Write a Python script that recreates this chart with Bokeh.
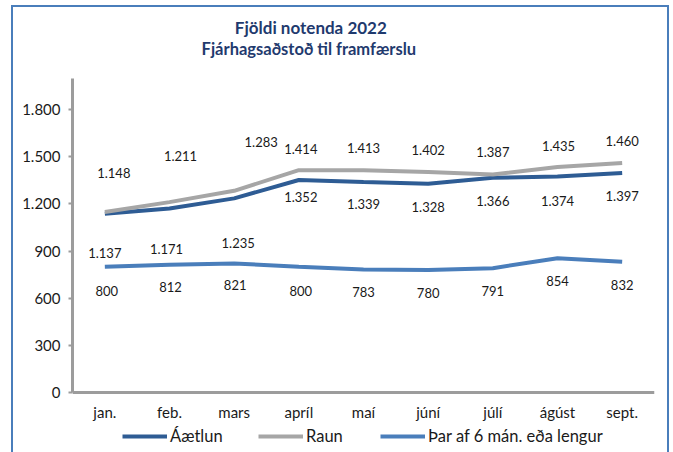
from bokeh.plotting import figure
from bokeh.models import Range1d, FactorRange, Legend, LegendItem, FixedTicker, ColumnDataSource
from bokeh.embed import file_html
from bokeh.resources import INLINE
from bokeh.core.properties import value

# ---- data ----
months = ["jan.", "feb.", "mars", "apríl", "maí", "júní", "júlí", "ágúst", "sept."]
aaetlun = [1137, 1171, 1235, 1352, 1339, 1328, 1366, 1374, 1397]
raun = [1148, 1211, 1283, 1414, 1413, 1402, 1387, 1435, 1460]
thar_af = [800, 812, 821, 800, 783, 780, 791, 854, 832]
y_ticks = [0, 300, 600, 900, 1200, 1500, 1800]
y_axis_max = 2000
series_names = ["Áætlun", "Raun", "Þar af 6 mán. eða lengur"]
title_lines = ["Fjöldi notenda 2022", "Fjárhagsaðstoð til framfærslu"]

# label placement (pixels; positive dy = upward)
raun_dx = [9, 11, 27, 2, 0, 0, 0, 1, 0]
raun_dy = [39, 46, 49, 21, 22, 22, 22, 21, 22]
aaetlun_dx = [0, -3, 4, 2, 0, 0, 0, 0, 0]
aaetlun_dy = [-39, -41, -45, -17, -22, -23, -23, -24, -23]
thar_dx = [2, 1, 1, 2, 0, 0, 0, 0, 0]
thar_dy = [-24, -22, -22, -24, -23, -23, -23, -23, -23]
legend_x = [50, 186, 308]   # legend entry offsets from the plot's left edge (px)


def fmt(v):
    return f"{v:,}".replace(",", ".")


FONT = "Lato"
C_AAETLUN = "#2E5C94"
C_RAUN = "#A6A6A6"
C_THAR = "#4A7EBB"
AXIS = "#9C9C9C"
TITLE_C = "#1F3A6E"

# frame spans the whole visible height; x axis is pinned at value 0, y axis line stops at 2000
p = figure(frame_width=582, frame_height=445, output_backend="svg", toolbar_location=None,
           x_range=FactorRange(*months, range_padding=0), y_range=Range1d(-381.6, 2449),
           min_border_left=59, min_border_right=13, min_border_top=0, min_border_bottom=0,
           title=None)
p.margin = (5, 0, 0, 11)
p.styles = {"border": "2px solid #4A7EBB"}
p.outline_line_color = None
p.xgrid.grid_line_color = None
p.ygrid.grid_line_color = None
p.background_fill_color = "white"
p.border_fill_color = "white"

# title (two lines, anchored to the top of the value axis)
tsrc = ColumnDataSource(dict(x=[months[3], months[3]], y=[y_axis_max, y_axis_max],
                             t=title_lines, dx=[12, 10], dy=[-51, -29],
                             fs=["17px", "16.5px"]))
p.text(x="x", y="y", text="t", source=tsrc, x_offset="dx", y_offset="dy",
       text_align="center", text_baseline="middle", text_font=value(FONT),
       text_font_style="bold", text_font_size="fs", text_color=TITLE_C)

# axes
p.yaxis.ticker = FixedTicker(ticks=y_ticks)
p.yaxis.bounds = (0, y_axis_max)
p.yaxis.major_label_overrides = {t: fmt(t) for t in y_ticks}
p.yaxis.axis_line_color = AXIS
p.yaxis.axis_line_width = 3
p.yaxis.major_tick_line_color = AXIS
p.yaxis.major_tick_line_width = 2
p.yaxis.major_tick_out = 4
p.yaxis.major_tick_in = 0
p.yaxis.minor_tick_line_color = None
p.yaxis.major_label_text_font = FONT
p.yaxis.major_label_text_font_size = "15px"
p.yaxis.major_label_text_color = "#1a1a1a"
p.yaxis.major_label_standoff = 8

p.xaxis.fixed_location = 0
p.xaxis.axis_line_color = AXIS
p.xaxis.axis_line_width = 3
p.xaxis.major_tick_line_color = None
p.xaxis.major_label_text_font = FONT
p.xaxis.major_label_text_font_size = "15px"
p.xaxis.major_label_text_color = "#1a1a1a"
p.xaxis.major_label_standoff = 4

# lines
r1 = p.line(months, aaetlun, line_color=C_AAETLUN, line_width=4)
r2 = p.line(months, raun, line_color=C_RAUN, line_width=4)
r3 = p.line(months, thar_af, line_color=C_THAR, line_width=4)

# data labels
for vals, dx, dy in ((raun, raun_dx, raun_dy), (aaetlun, aaetlun_dx, aaetlun_dy), (thar_af, thar_dx, thar_dy)):
    src = ColumnDataSource(dict(x=months, y=vals, t=[fmt(v) for v in vals],
                                dx=dx, dy=[-d for d in dy]))
    p.text(x="x", y="y", text="t", source=src, x_offset="dx", y_offset="dy",
           text_align="center", text_baseline="middle", text_font=value(FONT),
           text_font_size="13px", text_color="#1a1a1a")

# legend entries below the category labels
for name, r, lx in zip(series_names, (r1, r2, r3), legend_x):
    lg = Legend(items=[LegendItem(label=name, renderers=[r])],
                orientation="horizontal", location=(lx, 6),
                glyph_width=45, glyph_height=14, label_height=14, label_standoff=3,
                label_text_font=FONT, label_text_font_size="16.5px", label_text_color="#1a1a1a",
                border_line_color=None, background_fill_alpha=0, padding=0, margin=0)
    p.add_layout(lg)

open("out.html", "w").write(file_html(p, INLINE))
